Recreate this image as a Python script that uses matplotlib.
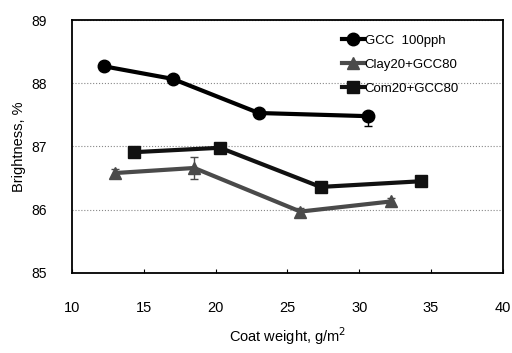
import matplotlib.pyplot as plt
import numpy as np

plt.rcParams["font.family"] = ["Liberation Sans", "DejaVu Sans"]
plt.rcParams["font.size"] = 10

# coat weight (g/m2) and brightness (%) for each coating formulation
gcc_x = [12.2, 17.0, 23.0, 30.6]
gcc_y = [88.27, 88.07, 87.53, 87.48]
gcc_err_lo = [0.0, 0.0, 0.0, 0.15]
gcc_err_hi = [0.0, 0.0, 0.0, 0.04]

clay_x = [13.0, 18.5, 25.9, 32.2]
clay_y = [86.58, 86.66, 85.97, 86.13]
clay_err = [0.07, 0.18, 0.05, 0.05]

com_x = [14.3, 20.3, 27.3, 34.3]
com_y = [86.91, 86.98, 86.36, 86.45]
com_err = [0.04, 0.04, 0.04, 0.05]

labels = ["GCC  100pph", "Clay20+GCC80", "Com20+GCC80"]

fig = plt.figure(figsize=(5.12, 3.53), dpi=100)
ax = fig.add_axes([0.141, 0.227, 0.841, 0.716])

series = [
    (gcc_x, gcc_y, [gcc_err_lo, gcc_err_hi], "black", "o", 9),
    (clay_x, clay_y, clay_err, "#4a4a4a", "^", 8),
    (com_x, com_y, com_err, "#111111", "s", 8),
]
for (x, y, err, c, m, ms), lab in zip(series, labels):
    ax.errorbar(x, y, yerr=err, fmt="none", ecolor=c, elinewidth=1, capsize=3)
    ax.plot(x, y, color=c, lw=3, marker=m, ms=ms, label=lab)

ax.set_xlim(10, 40)
ax.set_ylim(85, 89)
ax.set_xticks([10, 15, 20, 25, 30, 35, 40])
ax.set_yticks([85, 86, 87, 88, 89])
ax.yaxis.grid(True, linestyle=":", color="#888888", lw=0.8)
ax.set_axisbelow(True)
for s in ax.spines.values():
    s.set_linewidth(1.3)
ax.tick_params(axis="x", direction="in", length=3, pad=20, labelsize=10.5)
ax.tick_params(axis="y", length=0, pad=18, labelsize=10)

ax.set_xlabel("Coat weight, g/m$^2$", fontsize=10.5, labelpad=8)
ax.set_ylabel("Brightness, %", fontsize=10.5, labelpad=4)

ax.legend(loc="upper left", bbox_to_anchor=(0.6, 0.99), frameon=False,
          fontsize=9.5, handlelength=1.6, handletextpad=0.1, labelspacing=0.9)

plt.savefig("out.png", dpi=100)
plt.close()
